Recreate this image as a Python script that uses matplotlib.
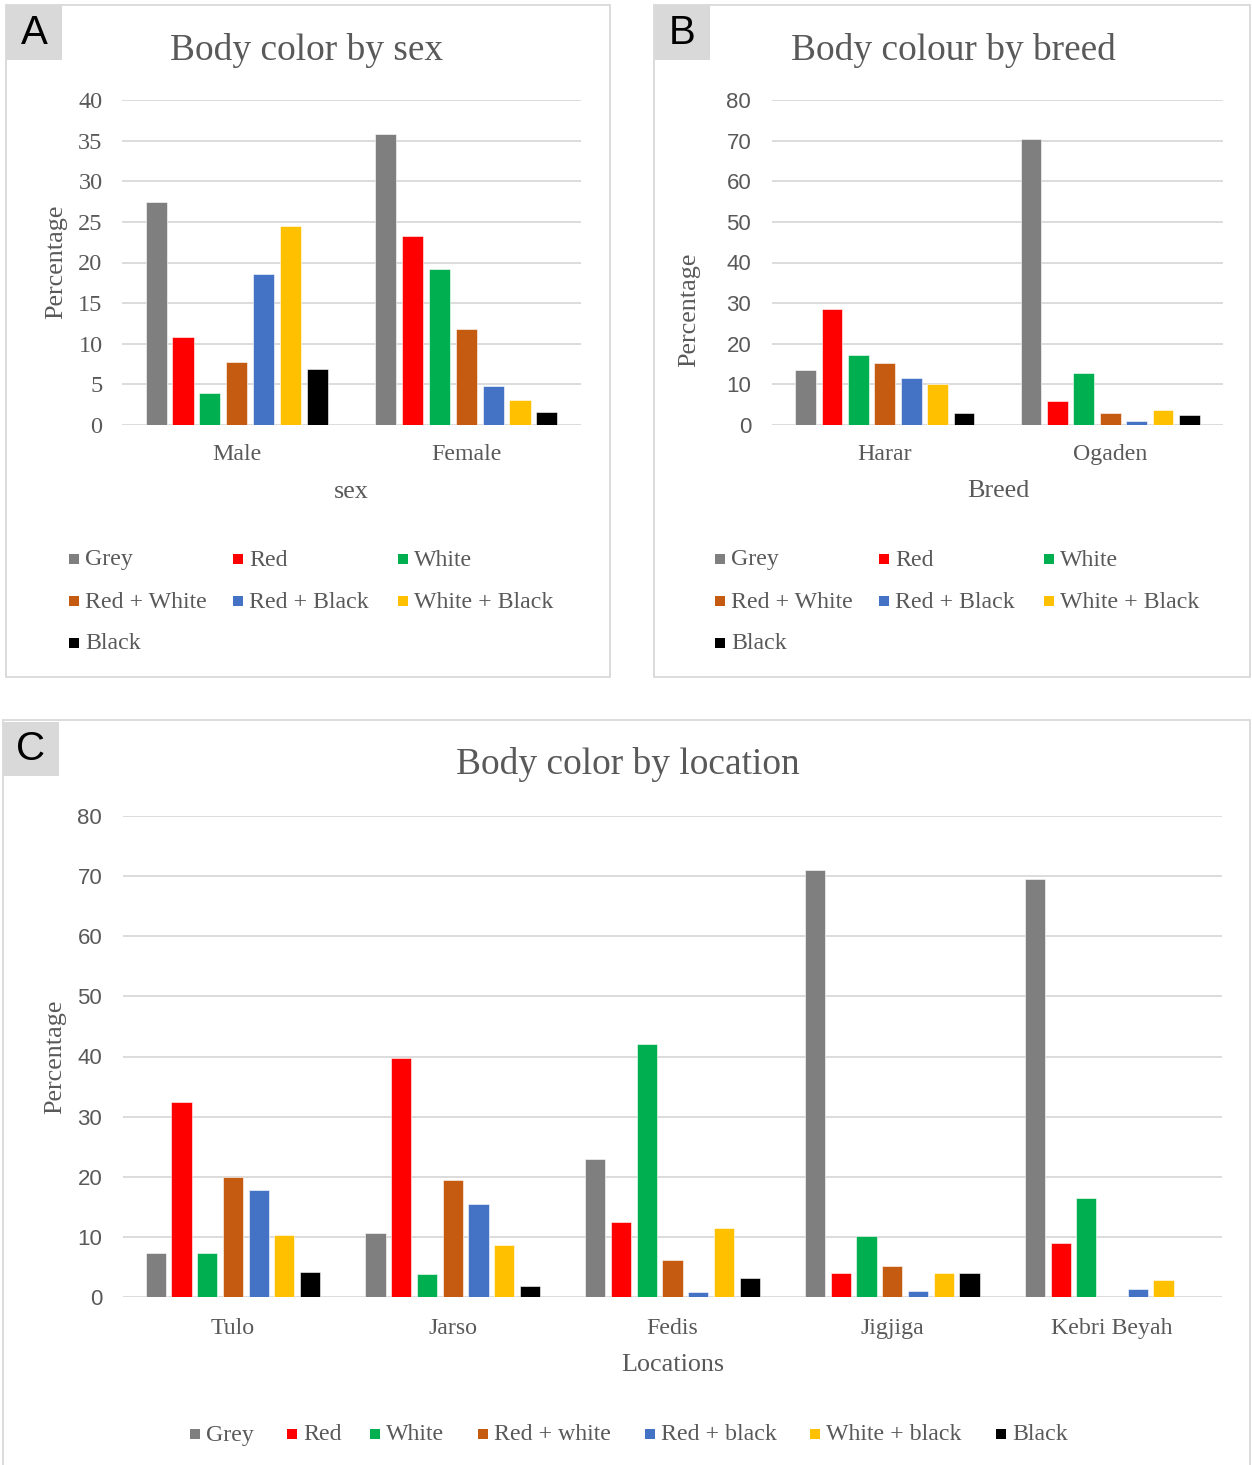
import numpy as np
import matplotlib
matplotlib.use("Agg")
import matplotlib.pyplot as plt
from matplotlib.patches import Rectangle

# ---- data -------------------------------------------------------------
colour_names = ["Grey", "Red", "White", "Red + White", "Red + Black", "White + Black", "Black"]
colour_names_loc = ["Grey", "Red", "White", "Red + white", "Red + black", "White + black", "Black"]
bar_colors = ["#7f7f7f", "#ff0000", "#00b050", "#c55a11", "#4472c4", "#ffc000", "#000000"]

sex_categories = ["Male", "Female"]
sex_values = {
    "Grey":          [27.5, 35.8],
    "Red":           [10.8, 23.3],
    "White":         [3.9, 19.2],
    "Red + White":   [7.8, 11.8],
    "Red + Black":   [18.6, 4.8],
    "White + Black": [24.5, 3.1],
    "Black":         [6.9, 1.6],
}

breed_categories = ["Harar", "Ogaden"]
breed_values = {
    "Grey":          [13.5, 70.3],
    "Red":           [28.5, 5.9],
    "White":         [17.3, 12.9],
    "Red + White":   [15.3, 3.0],
    "Red + Black":   [11.5, 1.1],
    "White + Black": [10.2, 3.6],
    "Black":         [3.0, 2.5],
}

location_categories = ["Tulo", "Jarso", "Fedis", "Jigjiga", "Kebri Beyah"]
location_values = {
    "Grey":          [7.3, 10.6, 23.0, 71.0, 69.6],
    "Red":           [32.4, 39.8, 12.5, 4.0, 9.0],
    "White":         [7.3, 3.8, 42.1, 10.2, 16.5],
    "Red + White":   [19.9, 19.4, 6.2, 5.1, 0.0],
    "Red + Black":   [17.8, 15.4, 0.9, 1.0, 1.3],
    "White + Black": [10.3, 8.7, 11.4, 4.0, 2.8],
    "Black":         [4.1, 1.8, 3.2, 4.0, 0.0],
}

# ---- layout helpers -----------------------------------------------------
W, H = 1252, 1465
DPI = 100
SERIF = ["Liberation Serif", "DejaVu Serif"]
SANS = ["Liberation Sans", "DejaVu Sans"]
TXT = "#595959"
GRID = "#d9d9d9"

fig = plt.figure(figsize=(W / DPI, H / DPI), dpi=DPI)
fig.patch.set_facecolor("white")


def fx(x):
    return x / W


def fy(y):
    return 1 - y / H


def px_axes(x0, y0, x1, y1):
    return fig.add_axes([fx(x0), fy(y1), (x1 - x0) / W, (y1 - y0) / H])


def frame(x0, y0, x1, y1):
    fig.patches.append(Rectangle((fx(x0), fy(y1)), (x1 - x0) / W, (y1 - y0) / H,
                                 transform=fig.transFigure, facecolor="none",
                                 edgecolor=GRID, lw=1.3, zorder=0))


def letter_box(x0, y0, x1, y1, letter):
    fig.patches.append(Rectangle((fx(x0), fy(y1)), (x1 - x0) / W, (y1 - y0) / H,
                                 transform=fig.transFigure, facecolor="#d9d9d9",
                                 edgecolor="none", zorder=1))
    fig.text(fx((x0 + x1) / 2), fy((y0 + y1) / 2), letter, fontsize=29,
             family=SANS, color="black", ha="center", va="center")


def draw_bars(ax, categories, values, ymax, ystep, tick_family, tick_size,
              tick_pad, xpad):
    n = len(categories)
    x = np.arange(n)
    step, width = 0.117, 0.092
    for i, (name, col) in enumerate(zip(colour_names, bar_colors)):
        ax.bar(x + (i - 3) * step, values[name], width=width, color=col,
               edgecolor="white", linewidth=0.4, zorder=3)
    ax.set_xlim(-0.5, n - 0.5)
    ax.set_ylim(0, ymax)
    yt = np.arange(0, ymax + 1, ystep)
    ax.set_yticks(yt)
    ax.set_yticklabels([str(v) for v in yt], family=tick_family,
                       fontsize=tick_size, color=TXT)
    ax.set_xticks(x)
    ax.set_xticklabels(categories, family=SERIF, fontsize=17.2, color=TXT)
    ax.tick_params(axis="x", length=0, pad=xpad)
    ax.tick_params(axis="y", length=0, pad=tick_pad)
    ax.yaxis.grid(True, color=GRID, lw=1.3, zorder=0)
    ax.set_axisbelow(True)
    for s in ax.spines.values():
        s.set_visible(False)
    ax.set_facecolor("none")


def legend_grid(entries, xs_marker, ys):
    k = 0
    for y in ys:
        for xm in xs_marker:
            if k >= len(entries):
                return
            name, col = entries[k]
            fig.patches.append(Rectangle((fx(xm), fy(y + 5)), 10 / W, 10 / H,
                                         transform=fig.transFigure, facecolor=col,
                                         edgecolor="none"))
            fig.text(fx(xm + 16), fy(y + 1), name, family=SERIF, fontsize=17.2,
                     color=TXT, ha="left", va="center")
            k += 1


# ---- panel frames -----------------------------------------------------
frame(6, 5, 610, 677)
frame(654, 5, 1250, 677)
frame(3, 720, 1250, 1466)
letter_box(6, 5, 62, 60, "A")
letter_box(655, 5, 710, 60, "B")
letter_box(3, 722, 59, 776, "C")

# ---- panel A: by sex ---------------------------------------------------
axA = px_axes(122, 100, 581, 425)
draw_bars(axA, sex_categories, sex_values, 40, 5, SERIF, 17.5, 14, 14)
fig.text(fx(307), fy(50), "Body color by sex", family=SERIF, fontsize=26.9,
         color=TXT, ha="center", va="center")
fig.text(fx(351), fy(492), "sex", family=SERIF, fontsize=18.8, color=TXT,
         ha="center", va="center")
fig.text(fx(56), fy(262), "Percentage", family=SERIF, fontsize=18.8, color=TXT,
         ha="center", va="center", rotation=90)
legend_grid(list(zip(colour_names, bar_colors)), [69, 233, 398], [559, 601, 643])

# ---- panel B: by breed -------------------------------------------------
axB = px_axes(772, 100, 1223, 425)
draw_bars(axB, breed_categories, breed_values, 80, 10, SANS, 16, 15, 14)
fig.text(fx(953), fy(50), "Body colour by breed", family=SERIF, fontsize=26.9,
         color=TXT, ha="center", va="center")
fig.text(fx(998), fy(491), "Breed", family=SERIF, fontsize=18.8, color=TXT,
         ha="center", va="center")
fig.text(fx(689), fy(310), "Percentage", family=SERIF, fontsize=18.8, color=TXT,
         ha="center", va="center", rotation=90)
legend_grid(list(zip(colour_names, bar_colors)), [715, 879, 1044], [559, 601, 643])

# ---- panel C: by location ----------------------------------------------
axC = px_axes(123, 816, 1222, 1297)
draw_bars(axC, location_categories, location_values, 80, 10, SANS, 16, 15, 15)
fig.text(fx(628), fy(765), "Body color by location", family=SERIF, fontsize=26.9,
         color=TXT, ha="center", va="center")
fig.text(fx(673), fy(1365), "Locations", family=SERIF, fontsize=18.8, color=TXT,
         ha="center", va="center")
fig.text(fx(55), fy(1057), "Percentage", family=SERIF, fontsize=18.8, color=TXT,
         ha="center", va="center", rotation=90)
legend_grid(list(zip(colour_names_loc, bar_colors)),
            [190, 287, 370, 478, 645, 810, 996], [1434])

fig.savefig("out.png", dpi=DPI, facecolor="white")
